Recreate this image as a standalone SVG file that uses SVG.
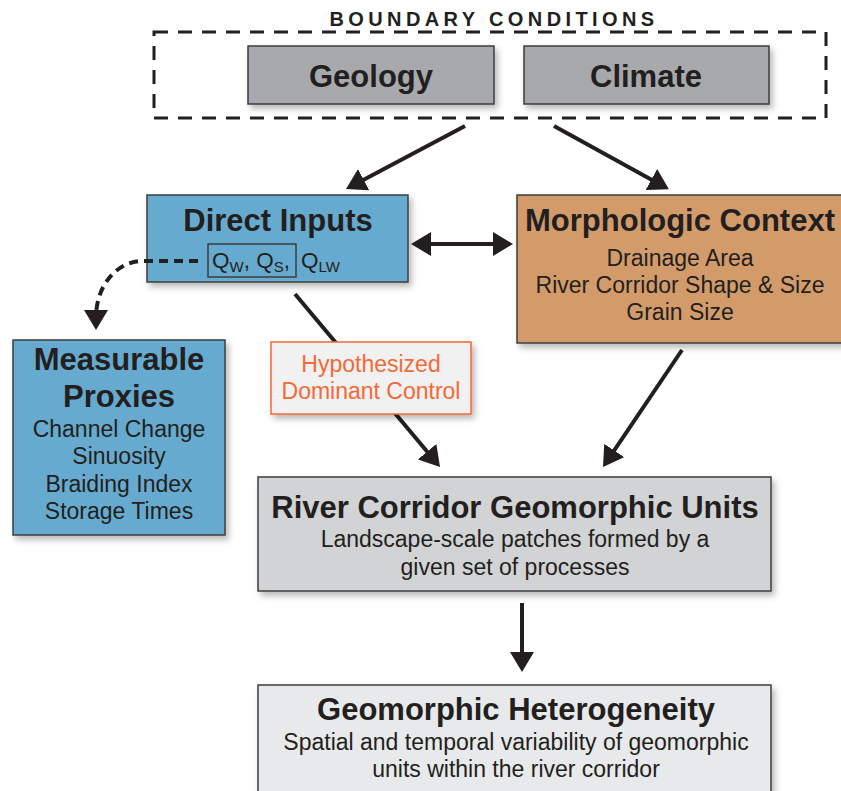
<svg xmlns="http://www.w3.org/2000/svg" width="841" height="791" viewBox="0 0 841 791">
  <defs>
    <filter id="shadow" x="-10%" y="-10%" width="130%" height="140%">
      <feDropShadow dx="3" dy="4" stdDeviation="3" flood-color="#000" flood-opacity="0.28"/>
    </filter>
    <marker id="head" viewBox="0 0 20 24" refX="8" refY="12" markerWidth="20" markerHeight="24" markerUnits="userSpaceOnUse" orient="auto-start-reverse">
      <path d="M0,0 L20,12 L0,24 Z" fill="#231f20"/>
    </marker>
  </defs>
  <style>
    .box { stroke: #3d3d3d; stroke-width: 1.5; }
    .title { font-family: "Liberation Sans", Arial, sans-serif; font-weight: bold; font-size: 31px; fill: #231f20; text-anchor: middle; }
    .body { font-family: "Liberation Sans", Arial, sans-serif; font-size: 23px; fill: #231f20; text-anchor: middle; }
    .conn { stroke: #231f20; stroke-width: 4; fill: none; }
    .orange { fill: #f26a36; }
  </style>
  <rect width="841" height="791" fill="#ffffff"/>

  <g id="boundary">
    <rect x="154" y="32" width="672" height="86" fill="none" stroke="#231f20" stroke-width="3" stroke-dasharray="14 10"/>
    <text x="494" y="26" font-family="Liberation Sans, Arial, sans-serif" font-weight="bold" font-size="20" letter-spacing="4.4" fill="#231f20" text-anchor="middle">BOUNDARY  CONDITIONS</text>
  </g>

  <g id="geology">
    <rect class="box" x="248" y="46" width="246" height="58" fill="#a7a9ac" filter="url(#shadow)"/>
    <text class="title" x="371" y="87">Geology</text>
  </g>

  <g id="climate">
    <rect class="box" x="524" y="46" width="245" height="58" fill="#a7a9ac" filter="url(#shadow)"/>
    <text class="title" x="646" y="87">Climate</text>
  </g>

  <g id="direct-inputs">
    <rect class="box" x="147" y="195" width="261" height="87" fill="#66abcf" filter="url(#shadow)"/>
    <text class="title" x="278" y="231">Direct Inputs</text>
    <rect x="208" y="244" width="88" height="33" fill="none" stroke="#3d3d3d" stroke-width="1.5"/>
    <text font-family="Liberation Sans, Arial, sans-serif" font-size="22.5" fill="#231f20" y="268"><tspan x="212">Q</tspan><tspan font-size="15" dy="4">W</tspan><tspan dy="-4">, Q</tspan><tspan font-size="15" dy="4">S</tspan><tspan dy="-4">,</tspan><tspan x="301">Q</tspan><tspan font-size="15" dy="4">LW</tspan></text>
  </g>

  <g id="morphologic-context">
    <rect class="box" x="517" y="195" width="330" height="148" fill="#d49b6a" filter="url(#shadow)"/>
    <text class="title" x="680" y="231">Morphologic Context</text>
    <text class="body" x="680" y="266">Drainage Area</text>
    <text class="body" x="680" y="293">River Corridor Shape &amp; Size</text>
    <text class="body" x="680" y="320">Grain Size</text>
  </g>

  <g id="measurable-proxies">
    <rect class="box" x="13" y="340" width="212" height="195" fill="#66abcf" filter="url(#shadow)"/>
    <text class="title" x="119" y="370">Measurable</text>
    <text class="title" x="119" y="407">Proxies</text>
    <text class="body" x="119" y="437">Channel Change</text>
    <text class="body" x="119" y="464">Sinuosity</text>
    <text class="body" x="119" y="492">Braiding Index</text>
    <text class="body" x="119" y="519">Storage Times</text>
  </g>

  <g id="connectors">
    <line class="conn" x1="465" y1="126" x2="356.6" y2="183.4" marker-end="url(#head)"/>
    <line class="conn" x1="554" y1="126" x2="658.4" y2="183.4" marker-end="url(#head)"/>
    <line class="conn" x1="423" y1="244" x2="501" y2="244" marker-start="url(#head)" marker-end="url(#head)"/>
    <path class="conn" d="M198,261 L143,261 C118,261 96,284 96,318" stroke-dasharray="9 6" marker-end="url(#head)"/>
    <line class="conn" x1="295" y1="294" x2="432.3" y2="457.8" marker-end="url(#head)"/>
    <line class="conn" x1="682" y1="350" x2="609.7" y2="457.1" marker-end="url(#head)"/>
    <line class="conn" x1="522" y1="603" x2="522" y2="660" marker-end="url(#head)"/>
  </g>

  <g id="hypothesized-dominant-control">
    <rect x="271" y="342" width="200" height="72" fill="#f1f1f2" stroke="#f26a36" stroke-width="1.5" filter="url(#shadow)"/>
    <text class="body orange" x="371" y="372">Hypothesized</text>
    <text class="body orange" x="371" y="399">Dominant Control</text>
  </g>

  <g id="river-corridor-geomorphic-units">
    <rect class="box" x="258" y="477" width="513" height="114" fill="#d1d3d4" filter="url(#shadow)"/>
    <text class="title" x="515" y="518">River Corridor Geomorphic Units</text>
    <text class="body" x="515" y="547">Landscape-scale patches formed by a</text>
    <text class="body" x="515" y="575">given set of processes</text>
  </g>

  <g id="geomorphic-heterogeneity">
    <rect class="box" x="258" y="685" width="513" height="120" fill="#e8e9ea" filter="url(#shadow)"/>
    <text class="title" x="516" y="720">Geomorphic Heterogeneity</text>
    <text class="body" x="516" y="750">Spatial and temporal variability of geomorphic</text>
    <text class="body" x="516" y="777">units within the river corridor</text>
  </g>
</svg>
